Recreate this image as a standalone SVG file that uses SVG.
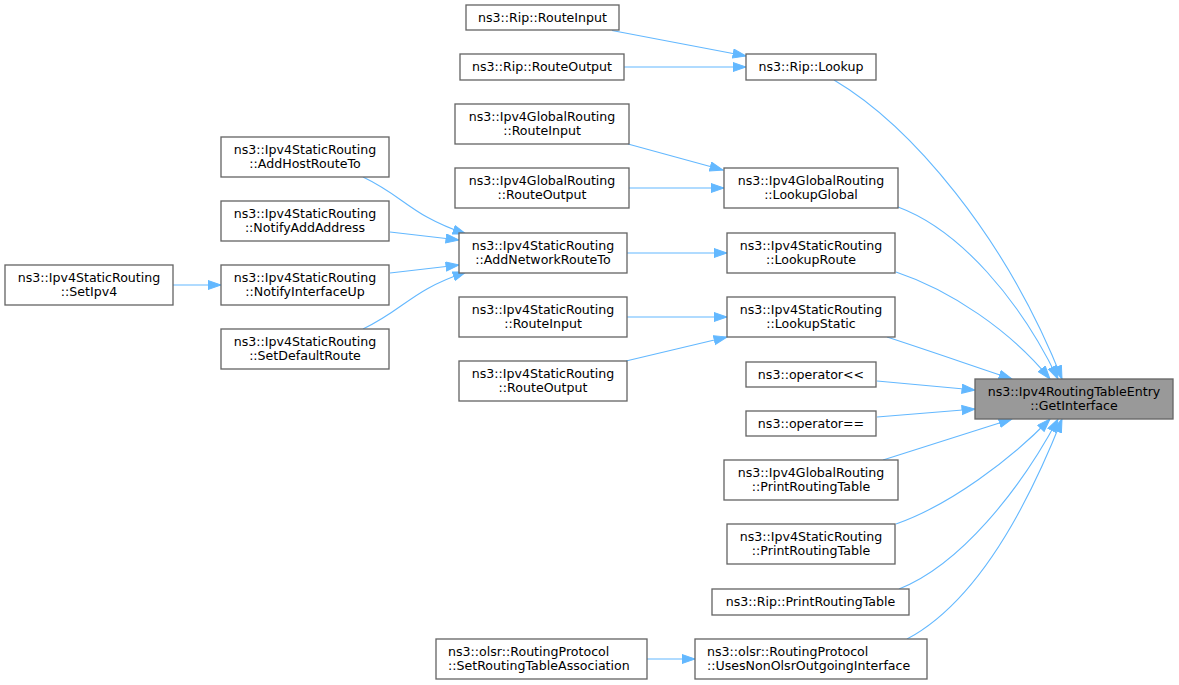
<svg xmlns="http://www.w3.org/2000/svg" width="1179" height="685" viewBox="0 0 1179 685">
<style>
.n rect{fill:#ffffff;stroke:#666666;stroke-width:1.33}
.n.t rect{fill:#999999}
.n text{font-family:"DejaVu Sans","Liberation Sans",sans-serif;font-size:12.6px;fill:#000000;text-anchor:middle}
.n text.l{text-anchor:start}
#edges path{fill:none;stroke:#63b8ff;stroke-width:1.1;marker-end:url(#ah)}
</style>
<defs>
<marker id="ah" markerUnits="userSpaceOnUse" markerWidth="15" markerHeight="11" refX="13.5" refY="5" orient="auto" viewBox="0 0 15 11">
<path d="M0.5,0.5 L13.5,5 L0.5,9.5 z" fill="#63b8ff" stroke="#63b8ff" stroke-width="1"/>
</marker>
</defs>
<rect x="0" y="0" width="1179" height="685" fill="#ffffff"/>
<g id="edges">
<path d="M612,30.5 L746,56"/>
<path d="M624,67 L746,67"/>
<path d="M834,80 C910,125 1005,235 1062,379"/>
<path d="M628,144 L723,170"/>
<path d="M629,188 L724,188"/>
<path d="M898,207 C960,230 1020,300 1058,379"/>
<path d="M363,177 C405,197 410,215 466,234"/>
<path d="M390,232 L459,240"/>
<path d="M390,273 L459,265"/>
<path d="M363,329 C405,309 410,291 466,272"/>
<path d="M173,285 L221,285"/>
<path d="M627,253 L727,253"/>
<path d="M896,272 C950,290 1010,330 1050,379"/>
<path d="M626,317 L727,317"/>
<path d="M626,361 L727,337"/>
<path d="M887,337 C930,351 970,365 1012,379"/>
<path d="M877,381 L975,390"/>
<path d="M877,417 L975,409"/>
<path d="M883,460 L1012,419"/>
<path d="M896,524 C950,505 1010,460 1050,419"/>
<path d="M899,589 C960,565 1020,490 1058,419"/>
<path d="M907,639 C980,600 1030,500 1062,419"/>
<path d="M647,659 L695,659"/>
</g>
<g id="rip_routeinput" class="n"><rect x="466" y="5" width="153" height="25"/><text x="542.5" y="21.5">ns3::Rip::RouteInput</text></g>
<g id="rip_routeoutput" class="n"><rect x="460" y="54" width="164" height="26"/><text x="542" y="71">ns3::Rip::RouteOutput</text></g>
<g id="rip_lookup" class="n"><rect x="746" y="54" width="130" height="26"/><text x="811" y="71">ns3::Rip::Lookup</text></g>
<g id="global_routeinput" class="n"><rect x="455" y="104" width="174" height="40"/><text x="542" y="121">ns3::Ipv4GlobalRouting</text><text x="542" y="134.5">::RouteInput</text></g>
<g id="global_routeoutput" class="n"><rect x="455" y="168" width="174" height="40"/><text x="542" y="185">ns3::Ipv4GlobalRouting</text><text x="542" y="198.5">::RouteOutput</text></g>
<g id="global_lookupglobal" class="n"><rect x="724" y="168" width="174" height="40"/><text x="811" y="185">ns3::Ipv4GlobalRouting</text><text x="811" y="198.5">::LookupGlobal</text></g>
<g id="static_addhostrouteto" class="n"><rect x="221" y="137" width="168" height="40"/><text x="305" y="154">ns3::Ipv4StaticRouting</text><text x="305" y="167.5">::AddHostRouteTo</text></g>
<g id="static_notifyaddaddress" class="n"><rect x="221" y="201" width="168" height="40"/><text x="305" y="218">ns3::Ipv4StaticRouting</text><text x="305" y="231.5">::NotifyAddAddress</text></g>
<g id="static_notifyinterfaceup" class="n"><rect x="221" y="265" width="168" height="40"/><text x="305" y="282">ns3::Ipv4StaticRouting</text><text x="305" y="295.5">::NotifyInterfaceUp</text></g>
<g id="static_setdefaultroute" class="n"><rect x="221" y="329" width="168" height="40"/><text x="305" y="346">ns3::Ipv4StaticRouting</text><text x="305" y="359.5">::SetDefaultRoute</text></g>
<g id="static_setipv4" class="n"><rect x="5" y="265" width="168" height="40"/><text x="89" y="282">ns3::Ipv4StaticRouting</text><text x="89" y="295.5">::SetIpv4</text></g>
<g id="static_addnetworkrouteto" class="n"><rect x="459" y="233" width="168" height="40"/><text x="543" y="250">ns3::Ipv4StaticRouting</text><text x="543" y="263.5">::AddNetworkRouteTo</text></g>
<g id="static_routeinput" class="n"><rect x="459" y="297" width="168" height="40"/><text x="543" y="314">ns3::Ipv4StaticRouting</text><text x="543" y="327.5">::RouteInput</text></g>
<g id="static_routeoutput" class="n"><rect x="459" y="361" width="168" height="40"/><text x="543" y="378">ns3::Ipv4StaticRouting</text><text x="543" y="391.5">::RouteOutput</text></g>
<g id="static_lookuproute" class="n"><rect x="727" y="233" width="168" height="40"/><text x="811" y="250">ns3::Ipv4StaticRouting</text><text x="811" y="263.5">::LookupRoute</text></g>
<g id="static_lookupstatic" class="n"><rect x="727" y="297" width="168" height="40"/><text x="811" y="314">ns3::Ipv4StaticRouting</text><text x="811" y="327.5">::LookupStatic</text></g>
<g id="operator_lt" class="n"><rect x="746" y="362" width="130" height="25"/><text x="811" y="378.5">ns3::operator&lt;&lt;</text></g>
<g id="operator_eq" class="n"><rect x="746" y="411" width="130" height="25"/><text x="811" y="427.5">ns3::operator==</text></g>
<g id="global_printroutingtable" class="n"><rect x="724" y="460" width="174" height="40"/><text x="811" y="477">ns3::Ipv4GlobalRouting</text><text x="811" y="490.5">::PrintRoutingTable</text></g>
<g id="static_printroutingtable" class="n"><rect x="727" y="524" width="168" height="40"/><text x="811" y="541">ns3::Ipv4StaticRouting</text><text x="811" y="554.5">::PrintRoutingTable</text></g>
<g id="rip_printroutingtable" class="n"><rect x="712" y="589" width="197" height="26"/><text x="810.5" y="606">ns3::Rip::PrintRoutingTable</text></g>
<g id="olsr_usesnonolsr" class="n"><rect x="695" y="639" width="232" height="40"/><text class="l" x="707" y="656">ns3::olsr::RoutingProtocol</text><text class="l" x="707" y="669.5">::UsesNonOlsrOutgoingInterface</text></g>
<g id="olsr_setroutingtableassociation" class="n"><rect x="436" y="639" width="211" height="40"/><text class="l" x="448" y="656">ns3::olsr::RoutingProtocol</text><text class="l" x="448" y="669.5">::SetRoutingTableAssociation</text></g>
<g id="target_getinterface" class="n t"><rect x="975" y="379" width="198" height="40"/><text x="1074" y="396">ns3::Ipv4RoutingTableEntry</text><text x="1074" y="409.5">::GetInterface</text></g>
</svg>
